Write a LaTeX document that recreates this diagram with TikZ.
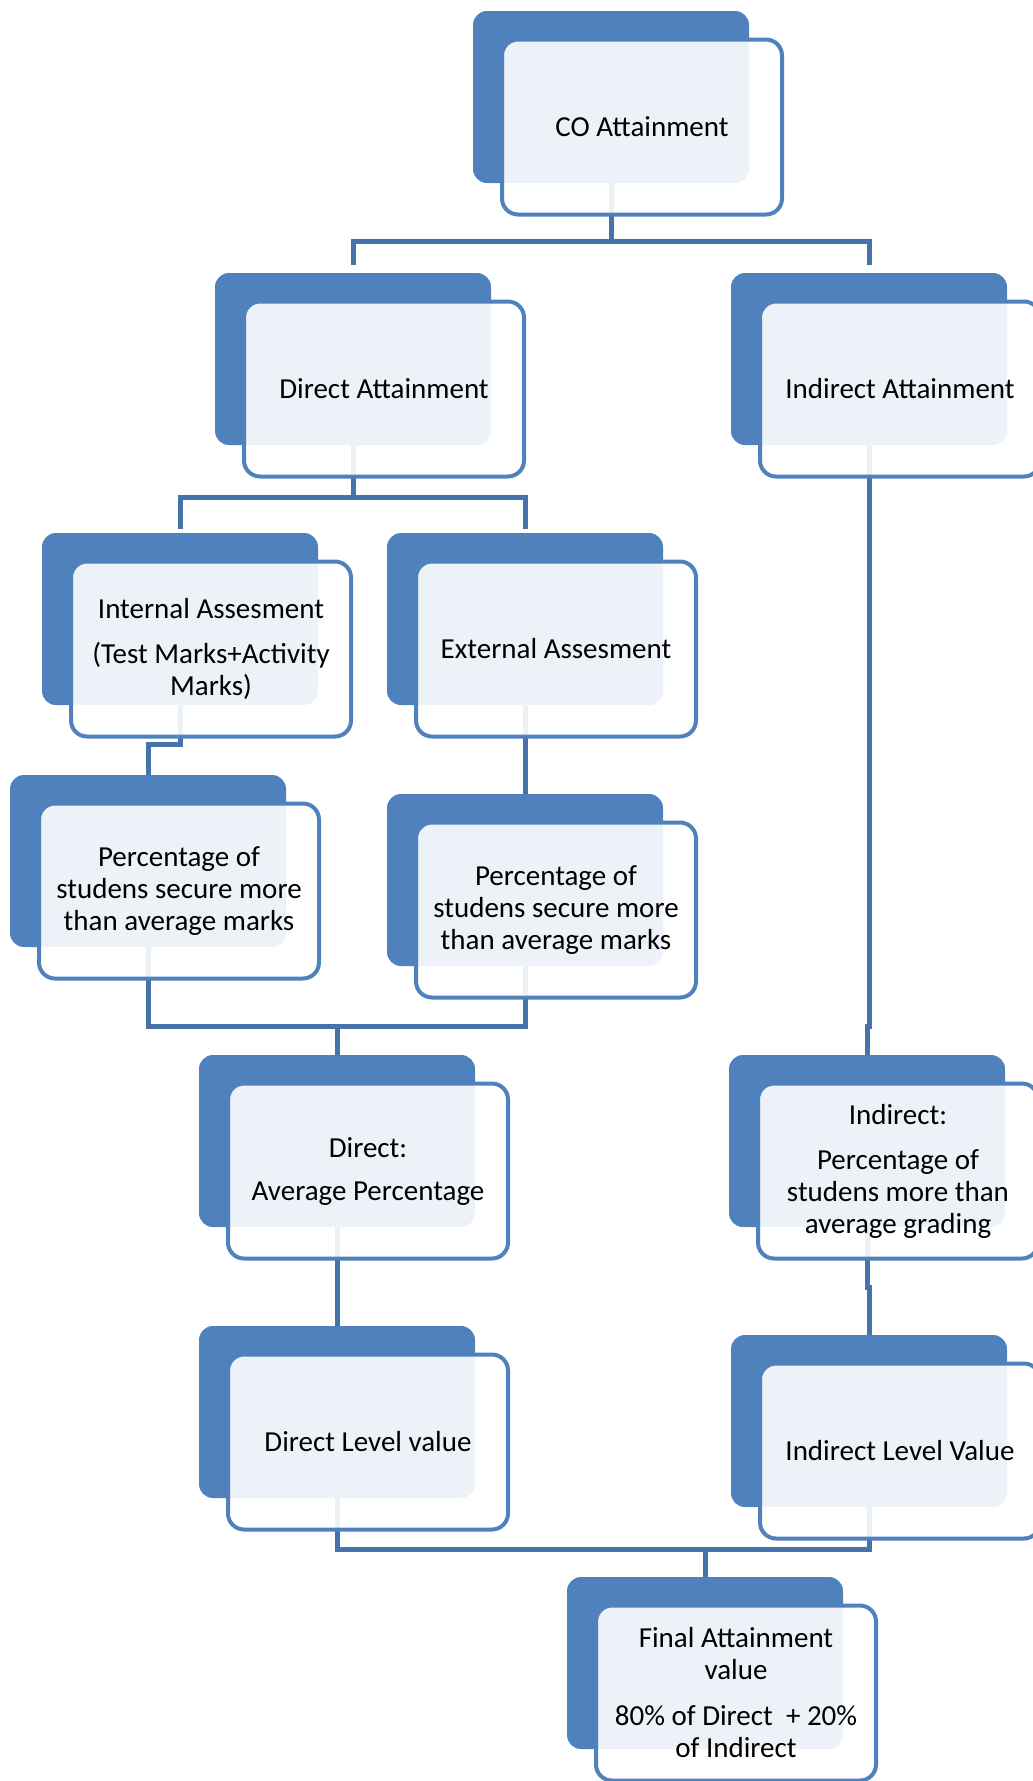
\documentclass[tikz,border=0pt]{standalone}
\usepackage{fontspec}
\setmainfont{Carlito}
\usepackage{tikz}
\usetikzlibrary{calc, backgrounds}
\definecolor{boxblue}{HTML}{4F81BD}
\definecolor{linkblue}{HTML}{4673AA}

\begin{document}
\begin{tikzpicture}[
    x = 1pt, y = -1pt,
    backbox/.style = {fill=boxblue, rounded corners=14pt, minimum width=276pt,
        minimum height=172pt, inner sep=0pt, outer sep=0pt},
    frontbox/.style = {draw=boxblue, line width=4pt, fill=white, fill opacity=0.9,
        text opacity=1, rounded corners=16pt, minimum width=280pt,
        minimum height=175pt, inner sep=0pt, align=center,
        xshift=31pt, yshift=-30pt, font=\fontsize{29}{32}\selectfont},
    link/.style = {draw=linkblue, line width=5pt}
  ]
  \useasboundingbox (0,0) rectangle (1033,1781);

  \foreach \nm/\px/\py/\txt in {
      co/611/97/{CO Attainment},
      dir/353/359/{Direct Attainment},
      ind/869/359/{Indirect Attainment},
      intl/180/619/{Internal Assesment\\[13pt](Test Marks+Activity\\Marks)},
      extl/525/619/{External Assesment},
      pctl/148/861/{Percentage of\\studens secure more\\than average marks},
      pctr/525/880/{Percentage of\\studens secure more\\than average marks},
      davg/337/1141/{Direct:\\[11pt]Average Percentage},
      iavg/867/1141/{Indirect:\\[13pt]Percentage of\\studens more than\\average grading},
      dlev/337/1412/{Direct Level value},
      ilev/869/1421/{Indirect Level Value},
      fin/705/1663/{Final Attainment\\value\\[14pt]80\% of Direct~ + 20\%\\of Indirect}}
  {
    \node[backbox] (\nm-b) at (\px,\py) {};
    \node[frontbox] (\nm) at (\nm-b) {\txt};
  }

  \begin{scope}[on background layer]
    \draw[link] (co-b.south) -- ++(0,58) coordinate (bus1);
    \draw[link, shorten <=8pt, shorten >=8pt] (dir-b.north) |- (bus1) -| (ind-b.north);
    \draw[link] (dir-b.south) -- ++(0,52) coordinate (bus2);
    \draw[link, shorten <=4pt, shorten >=4pt] (intl-b.north) |- (bus2) -| (extl-b.north);
    \draw[link] (intl-b.south) -- ++(0,39) -| (pctl-b.north);
    \draw[link] (extl-b.south) -- (pctr-b.north);
    \draw[link] (davg-b.north) -- ++(0,-29) coordinate (bus3);
    \draw[link] (pctl-b.south) |- (bus3) -| (pctr-b.south);
    \draw[link] (ind-b.south) -- (ind-b.south |- bus3) -| (iavg-b.north);
    \draw[link] (davg-b.south) -- (dlev-b.north);
    \draw[link] (iavg-b.south) -- ++(0,60) -| (ilev-b.north);
    \draw[link] (fin-b.north) -- ++(0,-28) coordinate (bus4);
    \draw[link] (dlev-b.south) |- (bus4) -| (ilev-b.south);
  \end{scope}
\end{tikzpicture}
\end{document}
